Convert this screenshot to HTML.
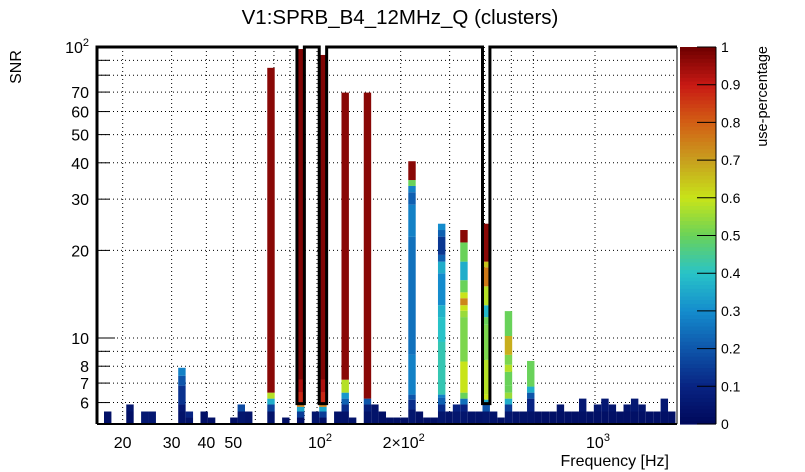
<!DOCTYPE html>
<html><head><meta charset="utf-8"><style>
html,body{margin:0;padding:0;background:#fff;}
svg{display:block;font-family:"Liberation Sans",Arial,sans-serif;}
</style></head><body>
<svg id="chart" width="805" height="472" viewBox="0 0 805 472" xmlns="http://www.w3.org/2000/svg">
<rect x="0" y="0" width="805" height="472" fill="#fff"/>
<text x="400" y="24" font-size="20.5" text-anchor="middle" fill="#000">V1:SPRB_B4_12MHz_Q (clusters)</text>
<text transform="translate(21,67) rotate(-90)" font-size="16" text-anchor="middle" fill="#000">SNR</text>
<text x="669" y="466" font-size="16" text-anchor="end" fill="#000">Frequency [Hz]</text>
<text transform="translate(767,46) rotate(-90)" font-size="14.5" text-anchor="end" fill="#000">use-percentage</text>
<g id="grid"></g>
<g id="cells"></g>
<g id="axes"></g>
<g id="cbar"></g>
</svg>
<script>
// ---- data ----
const fBinLo = 16.11;          // lower edge of first frequency bin (Hz)
const binRatio = 1.0634;       // log bin ratio
const nBins = 78;
const colBins = [1,4,6,7,11,12,14,15,18,19,20,23,25,27,29,30,32,33,34,36,37,38,39,40,41,42,43,44,45,46,47,48,49,50,51,52,53,54,55,56,57,58,59,60,61,62,63,64,65,66,67,68,69,70,71,72,73,74,75,76,77];
const colSegs = [
 [[5.59,0.03]],
 [[5.59,0.03],[5.91,0.05]],
 [[5.59,0.06]],
 [[5.59,0.06]],
 [[5.59,0.04],[5.91,0.06],[6.86,0.13],[7.42,0.2],[7.9,0.28]],
 [[5.33,0.04],[5.59,0.1]],
 [[5.59,0.03]],
 [[5.33,0.03]],
 [[5.33,0.03]],
 [[5.59,0.05],[5.91,0.18]],
 [[5.59,0.04]],
 [[5.59,0.04],[5.91,0.16],[6.19,0.36],[6.49,0.58],[84.8,0.97]],
 [[5.33,0.03]],
 [[5.33,0.03],[5.59,0.15],[5.8,0.35],[6.0,0.75],[6.5,0.88],[7.2,0.93],[98.4,0.98]],
 [[5.59,0.05]],
 [[5.33,0.03],[5.59,0.15],[5.8,0.35],[6.0,0.75],[6.5,0.88],[7.2,0.93],[93.9,0.98]],
 [[5.59,0.04]],
 [[5.59,0.04],[5.91,0.12],[6.19,0.22],[6.49,0.32],[7.19,0.58],[69.7,0.97]],
 [[5.33,0.04]],
 [[5.59,0.04],[5.91,0.08],[6.19,0.2],[69.7,0.97]],
 [[5.91,0.04]],
 [[5.59,0.03]],
 [[5.33,0.03]],
 [[5.33,0.03]],
 [[5.33,0.03]],
 [[5.68,0.05],[6.14,0.12],[6.39,0.2],[8.75,0.28],[22.3,0.25],[28.7,0.28],[31.7,0.22],[33.3,0.28],[34.9,0.5],[40.5,0.97]],
 [[5.59,0.03]],
 [[5.33,0.03]],
 [[5.33,0.03]],
 [[5.59,0.05],[5.91,0.12],[6.24,0.22],[6.39,0.28],[9.69,0.42],[11.8,0.4],[12.96,0.37],[16.7,0.3],[18.3,0.36],[19.3,0.22],[22.3,0.14],[23.5,0.22],[24.7,0.3]],
 [[5.59,0.04]],
 [[5.59,0.05],[5.91,0.1]],
 [[5.59,0.05],[5.91,0.1],[6.19,0.25],[6.49,0.5],[8.3,0.6],[11.8,0.52],[12.4,0.55],[12.96,0.6],[13.7,0.74],[14.35,0.6],[15.8,0.5],[18.3,0.36],[21.3,0.5],[23.5,0.97]],
 [[5.59,0.04]],
 [[5.59,0.04]],
 [[5.59,0.05],[5.95,0.2],[6.14,0.35],[6.39,0.6],[8.41,0.58],[11.1,0.52],[11.8,0.5],[12.96,0.38],[15.05,0.58],[17.5,0.76],[18.3,0.65],[24.7,0.97]],
 [[5.59,0.04]],
 [[5.33,0.03]],
 [[5.59,0.05],[5.91,0.15],[6.19,0.36],[6.49,0.55],[6.86,0.5],[7.65,0.5],[8.09,0.58],[8.75,0.52],[10.16,0.68],[12.37,0.5]],
 [[5.59,0.04]],
 [[5.59,0.04]],
 [[5.59,0.04],[6.19,0.1],[6.49,0.2],[6.81,0.36],[8.34,0.5]],
 [[5.59,0.03]],[[5.59,0.03]],[[5.59,0.03]],
 [[5.59,0.03],[5.91,0.05]],
 [[5.59,0.03]],[[5.59,0.03]],
 [[5.59,0.03],[6.19,0.06]],
 [[5.59,0.03]],
 [[5.59,0.03],[5.91,0.05]],
 [[5.59,0.03],[6.19,0.06]],
 [[5.59,0.03],[5.91,0.05]],
 [[5.59,0.03]],
 [[5.59,0.03],[5.91,0.05]],
 [[5.59,0.03],[6.19,0.06]],
 [[5.59,0.03],[5.91,0.05]],
 [[5.59,0.03]],[[5.59,0.03]],
 [[5.59,0.03],[6.19,0.06]],
 [[5.59,0.03]]
];
const envLowBins = [27,30,52];
const envLowVals = [5.95,5.95,5.95];
const envHigh = 100;
const yGridVals = [6,7,8,9,10,20,30,40,50,60,70,80,90];
const yLabelVals = [6,7,8,10,20,30,40,50,60,70];
const xGridVals = [20,30,40,50,60,70,80,90,100,200,300,400,500,600,1000];
const xLabelVals = [20,30,40,50];
const cbTicks = [0,0.1,0.2,0.3,0.4,0.5,0.6,0.7,0.8,0.9,1];
const cbTickLabels = ["0","0.1","0.2","0.3","0.4","0.5","0.6","0.7","0.8","0.9","1"];

// ---- scales ----
const L=97,R=677,T=47,B=424;
const yMin=5.07, yMax=100;
function X(f){return 317+(Math.log10(f)-2)*278;}
function Y(s){return 47+(2-Math.log10(s))*291;}
function binEdge(k){return fBinLo*Math.pow(binRatio,k);}
const stops=[[0,[0,8,90]],[0.1,[8,35,130]],[0.2,[14,85,170]],[0.3,[20,140,205]],[0.4,[40,195,200]],[0.5,[105,210,90]],[0.6,[200,228,25]],[0.7,[200,160,30]],[0.8,[210,95,20]],[0.9,[200,25,20]],[1,[110,0,0]]];
function col(v){v=Math.max(0,Math.min(1,v));for(let i=1;i<stops.length;i++){if(v<=stops[i][0]){const a=stops[i-1],b=stops[i],t=(v-a[0])/(b[0]-a[0]);const c=a[1].map((x,j)=>Math.round(x+(b[1][j]-x)*t));return `rgb(${c[0]},${c[1]},${c[2]})`;}}return 'rgb(110,0,0)';}
const NS='http://www.w3.org/2000/svg';
function mk(tag,attrs,parent){const e=document.createElementNS(NS,tag);for(const k in attrs)e.setAttribute(k,attrs[k]);parent.appendChild(e);return e;}

// grid
const g=document.getElementById('grid');
yGridVals.forEach(v=>{const l=mk('line',{x1:L,x2:R,y1:Y(v),y2:Y(v),stroke:'#000','stroke-width':1,'stroke-dasharray':'1,3'},g);

});
xGridVals.forEach(v=>{const l=mk('line',{x1:X(v),x2:X(v),y1:T,y2:B,stroke:'#000','stroke-width':1,'stroke-dasharray':'1,3'},g);

});

// cells
const cg=document.getElementById('cells');
colBins.forEach((b,i)=>{
  const x0=X(binEdge(b)),x1=X(binEdge(b+1));
  let lo=yMin;
  colSegs[i].forEach(seg=>{
    const r=mk('rect',{x:x0,y:Y(seg[0]),width:x1-x0,height:Y(lo)-Y(seg[0]),fill:col(seg[1])},cg);
    
    
    lo=seg[0];
  });
});

// axes
const ag=document.getElementById('axes');
let d=`M${L},${B} V${Y(envHigh)}`;
for(let k=0;k<nBins;k++){
  const j=envLowBins.indexOf(k);
  const v=j>=0?envLowVals[j]:envHigh;
  const x1=Math.min(R,X(binEdge(k+1)));
  d+=` V${Y(v)} H${x1}`;
}
d+=` H${R}`;
const env=mk('path',{d:d,fill:'none',stroke:'#000','stroke-width':3},ag);


const fr=mk('line',{x1:R,x2:R,y1:T,y2:B,stroke:'#000','stroke-width':1},ag);


const xa=mk('line',{x1:L,x2:R,y1:B,y2:B,stroke:'#000','stroke-width':2},ag);


yGridVals.concat([100]).forEach(v=>{const len=(v===10||v===100)?18:13;const t=mk('line',{x1:L,x2:L+len,y1:Y(v),y2:Y(v),stroke:'#000','stroke-width':1},ag);

});
yLabelVals.forEach(v=>{const t=mk('text',{x:89,y:Y(v)+6,'font-size':16,'text-anchor':'end'},ag);t.textContent=String(v);

});
const y100=mk('text',{x:89,y:Y(100)+6,'font-size':16,'text-anchor':'end'},ag);
y100.innerHTML='10<tspan dy="-7" font-size="11">2</tspan>';


xLabelVals.forEach(v=>{const t=mk('text',{x:X(v),y:448,'font-size':16,'text-anchor':'middle'},ag);t.textContent=String(v);

});
[[100,'10','2'],[200,'2×10','2'],[1000,'10','3']].forEach(a=>{const t=mk('text',{x:X(a[0])+3,y:448,'font-size':16,'text-anchor':'middle'},ag);
t.innerHTML=a[1]+'<tspan dy="-7" font-size="11">'+a[2]+'</tspan>';

});

// colorbar
const cb=document.getElementById('cbar');
const cbL=680,cbR=716,cbT=47,cbB=424,N=100;
for(let i=0;i<N;i++){const y0=cbB-(i+1)*(cbB-cbT)/N;const r=mk('rect',{x:cbL,y:y0,width:cbR-cbL,height:(cbB-cbT)/N+0.6,fill:col((i+0.5)/N)},cb);

}
cbTicks.forEach((v,i)=>{const y=cbB-v*(cbB-cbT);
const t=mk('line',{x1:cbR-19,x2:cbR,y1:y,y2:y,stroke:'#000','stroke-width':1},cb);


const tx=mk('text',{x:721,y:y+5,'font-size':14},cb);tx.textContent=cbTickLabels[i];

});
const cbl=mk('line',{x1:cbR,x2:cbR,y1:cbT,y2:cbB,stroke:'#000','stroke-width':1},cb);


</script>
</body></html>
